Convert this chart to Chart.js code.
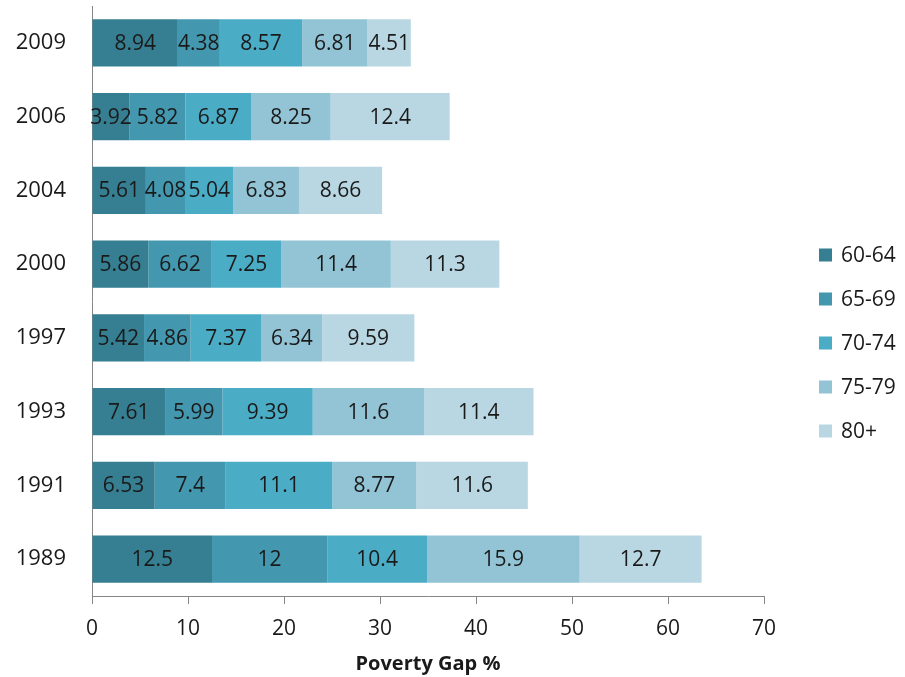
<!DOCTYPE html>
<html>
<head>
<meta charset="utf-8">
<script src="https://cdn.jsdelivr.net/npm/chart.js@4"></script>
<style>
html,body{margin:0;padding:0;background:#fff;}
#wrap{width:905px;height:677px;}
</style>
</head>
<body>
<div id="wrap"><canvas id="c" width="905" height="677"></canvas></div>
<script>
const years = ['2009', '2006', '2004', '2000', '1997', '1993', '1991', '1989'];
const seriesNames = ['60-64', '65-69', '70-74', '75-79', '80+'];
const s6064 = [8.94, 3.92, 5.61, 5.86, 5.42, 7.61, 6.53, 12.5];
const s6569 = [4.38, 5.82, 4.08, 6.62, 4.86, 5.99, 7.4, 12];
const s7074 = [8.57, 6.87, 5.04, 7.25, 7.37, 9.39, 11.1, 10.4];
const s7579 = [6.81, 8.25, 6.83, 11.4, 6.34, 11.6, 8.77, 15.9];
const s80p  = [4.51, 12.4, 8.66, 11.3, 9.59, 11.4, 11.6, 12.7];
const xTicks = [0, 10, 20, 30, 40, 50, 60, 70];
const colors = ['#367e91', '#4398b0', '#4bacc6', '#93c4d5', '#b9d7e3'];

const seriesValues = [s6064, s6569, s7074, s7579, s80p];
const FONT = "'Open Sans', 'Liberation Sans', sans-serif";

const valueLabels = {
  id: 'valueLabels',
  afterDatasetsDraw(chart) {
    const ctx = chart.ctx;
    ctx.save();
    ctx.font = '21px ' + FONT;
    ctx.fillStyle = '#1a1a1a';
    ctx.textAlign = 'center';
    ctx.textBaseline = 'middle';
    chart.data.datasets.forEach((ds, i) => {
      const meta = chart.getDatasetMeta(i);
      meta.data.forEach((el, j) => {
        const cx = (el.x + el.base) / 2;
        ctx.fillText(String(ds.data[j]), cx, el.y + 1);
      });
    });
    ctx.restore();
  }
};

const sideLegend = {
  id: 'sideLegend',
  afterDraw(chart) {
    const ctx = chart.ctx;
    const ds = chart.data.datasets;
    const gap = 44;
    const startY = 343 - (ds.length - 1) * gap / 2;
    const boxX = chart.chartArea.right + 55;
    ctx.save();
    ctx.font = '21px ' + FONT;
    ctx.textAlign = 'left';
    ctx.textBaseline = 'middle';
    ds.forEach((d, i) => {
      const y = startY + i * gap;
      ctx.fillStyle = d.backgroundColor;
      ctx.fillRect(boxX, y - 6.5, 13, 13);
      ctx.fillStyle = '#1a1a1a';
      ctx.fillText(d.label, boxX + 22, y + 1);
    });
    ctx.restore();
  }
};

new Chart(document.getElementById('c'), {
  type: 'bar',
  data: {
    labels: years,
    datasets: seriesNames.map((n, i) => ({
      label: n,
      data: seriesValues[i],
      backgroundColor: colors[i],
      borderWidth: 0,
      categoryPercentage: 1,
      barPercentage: 0.64
    }))
  },
  options: {
    indexAxis: 'y',
    responsive: false,
    animation: false,
    devicePixelRatio: 1,
    layout: { padding: { left: 0, right: 141, top: 6, bottom: 0 } },
    plugins: {
      legend: { display: false },
      tooltip: { enabled: false }
    },
    scales: {
      x: {
        stacked: true,
        min: 0,
        max: 70,
        afterBuildTicks: (s) => { s.ticks = xTicks.map(v => ({ value: v })); },
        grid: { drawOnChartArea: false, drawTicks: true, tickLength: 8, color: '#868686' },
        border: { color: '#868686', width: 1 },
        ticks: { color: '#1a1a1a', font: { size: 21, family: FONT }, padding: 12, maxRotation: 0 },
        title: { display: true, text: 'Poverty Gap %', color: '#1a1a1a', font: { size: 20, weight: 'bold', family: FONT }, padding: { top: 4, bottom: 1 } },
        afterFit: (s) => { s.height = 81; }
      },
      y: {
        stacked: true,
        grid: { display: false, drawTicks: false },
        border: { display: true, color: '#868686', width: 1 },
        ticks: { color: '#1a1a1a', font: { size: 22, family: FONT }, padding: 26 },
        afterFit: (s) => { s.width = 92; s.paddingTop = 0; s.paddingBottom = 0; }
      }
    }
  },
  plugins: [valueLabels, sideLegend]
});
</script>
</body>
</html>
